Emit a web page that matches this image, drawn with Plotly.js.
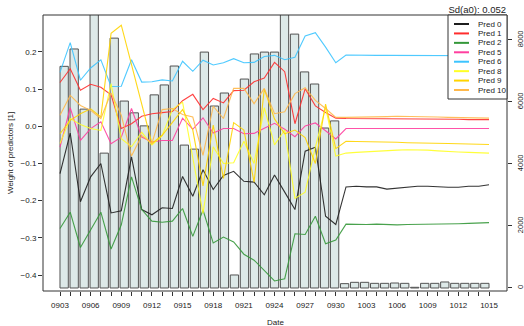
<!DOCTYPE html>
<html>
<head>
<meta charset="utf-8">
<script src="https://cdn.plot.ly/plotly-3.0.1.min.js"></script>
<style>
  html, body { margin: 0; padding: 0; background: #ffffff; }
  #chart { width: 524px; height: 326px; }
</style>
</head>
<body>
<div id="chart"></div>
<script>
// Daily dates (MMDD)
const dates = [
  '0903','0904','0905','0906','0907','0908','0909','0910','0911','0912',
  '0913','0914','0915','0916','0917','0918','0919','0920','0921','0922',
  '0923','0924','0925','0926','0927','0928','0929','0930','1001','1002',
  '1003','1004','1005','1006','1007','1008','1009','1010','1011','1012',
  '1013','1014','1015'
];

// Number of observations per day (right axis)
const counts = [
  7150, 7710, 5770, 9500, 4350, 8060, 6030, 5650, 5230, 6230,
  6550, 7160, 4610, 4480, 7610, 5870, 6290, 420, 6740, 7550,
  7610, 7610, 9500, 8190, 6970, 6580, 5160, 5390, 140, 183,
  183, 150, 150, 161, 150, 22, 150, 150, 194, 150,
  150, 150, 150
];

// Predictor weights (left axis)
const pred0 = [
  -0.127, -0.018, -0.203, -0.136, -0.100, -0.233, -0.227, -0.082, -0.224, -0.238,
  -0.219, -0.221, -0.135, -0.188, -0.117, -0.170, -0.132, -0.121, -0.148, -0.150,
  -0.184, -0.131, -0.177, -0.224, -0.067, -0.056, -0.242, -0.264, -0.163, -0.161,
  -0.163, -0.163, -0.169, -0.166, -0.162, -0.161, -0.161, -0.163, -0.164, -0.164,
  -0.161, -0.161, -0.157
];
const pred1 = [
  0.118, 0.155, 0.097, 0.113, 0.105, 0.085, -0.006, 0.007, 0.027, 0.034,
  0.037, 0.040, 0.069, 0.086, 0.045, 0.075, 0.063, 0.096, 0.097, 0.120,
  0.130, 0.172, 0.147, 0.007, 0.101, 0.055, 0.037, 0.022, 0.021, 0.021,
  0.020, 0.020, 0.020, 0.020, 0.020, 0.019, 0.019, 0.019, 0.019, 0.019,
  0.018, 0.018, 0.018
];
const pred2 = [
  -0.275, -0.231, -0.326, -0.277, -0.231, -0.330, -0.265, -0.136, -0.224, -0.255,
  -0.258, -0.255, -0.221, -0.296, -0.225, -0.314, -0.298, -0.311, -0.344, -0.360,
  -0.387, -0.416, -0.410, -0.289, -0.291, -0.242, -0.316, -0.306, -0.263, -0.264,
  -0.264, -0.263, -0.265, -0.265, -0.264, -0.264, -0.264, -0.263, -0.263, -0.262,
  -0.261, -0.260, -0.259
];
const pred5 = [
  -0.056, 0.050, -0.038, -0.006, 0.012, -0.047, -0.029, 0.048, -0.029, -0.042,
  -0.038, -0.038, 0.022, -0.008, 0.023, -0.018, -0.006, -0.006, -0.020, -0.019,
  -0.005, 0.008, -0.008, -0.028, 0.001, 0.009, -0.012, -0.034, -0.006, -0.006,
  -0.007, -0.007, -0.007, -0.008, -0.007, -0.007, -0.007, -0.007, -0.006, -0.006,
  -0.006, -0.006, -0.006
];
const pred6 = [
  0.145, 0.225, 0.124, 0.157, 0.179, 0.107, 0.108, 0.179, 0.119, 0.120,
  0.125, 0.122, 0.175, 0.148, 0.178, 0.165, 0.171, 0.182, 0.171, 0.172,
  0.188, 0.191, 0.179, 0.186, 0.243, 0.252, 0.213, 0.171, 0.192, 0.191,
  0.191, 0.191, 0.191, 0.191, 0.191, 0.191, 0.191, 0.191, 0.191, 0.191,
  0.191, 0.190, 0.190
];
const pred8 = [
  -0.046, 0.021, 0.005, -0.006, -0.011, 0.115, -0.033, -0.055, -0.016, -0.050,
  -0.025, 0.045, 0.065, -0.090, -0.234, -0.055, -0.100, -0.098, -0.040, -0.100,
  0.050, -0.050, -0.010, -0.194, -0.177, -0.056, 0.051, -0.080, -0.072, -0.070,
  -0.068, -0.067, -0.066, -0.064, -0.063, -0.063, -0.064, -0.066, -0.068, -0.069,
  -0.070, -0.071, -0.072
];
const pred9 = [
  -0.020, 0.016, 0.034, 0.047, 0.025, 0.250, 0.272, 0.164, 0.056, -0.046,
  -0.024, 0.010, 0.045, -0.010, -0.160, 0.003, -0.140, 0.010, -0.010, -0.150,
  0.100, 0.020, -0.020, -0.010, -0.030, -0.100, 0.060, -0.060, -0.040, -0.041,
  -0.041, -0.042, -0.042, -0.043, -0.044, -0.044, -0.045, -0.046, -0.046, -0.047,
  -0.048, -0.048, -0.049
];
const pred10 = [
  0.030, 0.083, 0.056, 0.043, 0.021, 0.090, 0.030, -0.080, -0.025, -0.046,
  0.045, 0.048, 0.032, 0.025, -0.078, 0.054, 0.021, 0.102, 0.102, 0.061,
  0.102, 0.034, 0.039, 0.088, 0.104, 0.070, 0.048, 0.024, 0.024, 0.024,
  0.025, 0.025, 0.026, 0.027, 0.027, 0.026, 0.025, 0.025, 0.024, 0.024,
  0.023, 0.023, 0.022
];

const seriesNames = ['Pred 0', 'Pred 1', 'Pred 2', 'Pred 5', 'Pred 6', 'Pred 8', 'Pred 9', 'Pred 10'];
const seriesData = [pred0, pred1, pred2, pred5, pred6, pred8, pred9, pred10];
const seriesColors = ['#1e1e1e', '#ff2d2d', '#35983a', '#ff3f9f', '#3cc4ff', '#ffff26', '#ffd400', '#ffb84a'];

const weightTicks = [-0.4, -0.3, -0.2, -0.1, 0.0, 0.1, 0.2];
const weightTickText = ['\u22120.4', '\u22120.3', '\u22120.2', '\u22120.1', '0.0', '0.1', '0.2'];
const countTicks = [0, 2000, 4000, 6000, 8000];
const dateLabelEvery = 3;

// Plot frame in pixels
const W = 524, H = 326;
const M = { l: 43, r: 17, t: 15, b: 35 };
const plotW = W - M.l - M.r;
const plotH = H - M.t - M.b;
const px2x = px => (px - M.l) / plotW;
const py2y = py => (H - M.b - py) / plotH;

const FONT = 'Liberation Sans, Arial, Helvetica, sans-serif';
const INK = '#222222';

const traces = [];

// Daily counts as bars behind the weight lines
traces.push({
  type: 'bar',
  x: dates,
  y: counts,
  xaxis: 'x',
  yaxis: 'y',
  width: 0.83,
  marker: { color: '#dde9e8', line: { color: '#525252', width: 1 } },
  hoverinfo: 'skip'
});

// Predictor weight lines
seriesData.forEach((vals, k) => {
  traces.push({
    type: 'scatter',
    mode: 'lines',
    name: seriesNames[k],
    x: dates,
    y: vals,
    xaxis: 'x2',
    yaxis: 'y2',
    line: { color: seriesColors[k], width: 1.1 },
    opacity: 0.9,
    hoverinfo: 'skip'
  });
});

// Hand-built legend box
const legend = { left: 448, right: 507, top: 15, bottom: 99, lineX0: 454, lineX1: 469, textX: 476, firstRow: 24, rowStep: 9.43 };
const shapes = [
  { type: 'rect', xref: 'paper', yref: 'paper', x0: 0, x1: 1, y0: 0, y1: 1,
    line: { color: '#333333', width: 1 }, fillcolor: 'rgba(0,0,0,0)', layer: 'above' },
  { type: 'rect', xref: 'paper', yref: 'paper',
    x0: px2x(legend.left), x1: px2x(legend.right), y0: py2y(legend.bottom), y1: py2y(legend.top),
    line: { color: '#333333', width: 1 }, fillcolor: '#ffffff', layer: 'above' }
];
const annotations = [];
seriesNames.forEach((name, k) => {
  const yy = py2y(legend.firstRow + k * legend.rowStep);
  shapes.push({ type: 'line', xref: 'paper', yref: 'paper',
    x0: px2x(legend.lineX0), x1: px2x(legend.lineX1), y0: yy, y1: yy,
    line: { color: seriesColors[k], width: 2 }, layer: 'above' });
  annotations.push({ xref: 'paper', yref: 'paper', x: px2x(legend.textX), y: yy,
    xanchor: 'left', yanchor: 'middle', showarrow: false, text: name,
    font: { family: FONT, size: 8, color: INK } });
});

// Axis titles
annotations.push({ xref: 'paper', yref: 'paper', x: px2x(10), y: py2y(153),
  xanchor: 'center', yanchor: 'middle', showarrow: false, textangle: -90,
  text: 'Weight of predictors [1]', font: { family: FONT, size: 8, color: INK } });
annotations.push({ xref: 'paper', yref: 'paper', x: 0.5, y: py2y(322),
  xanchor: 'center', yanchor: 'middle', showarrow: false,
  text: 'Date', font: { family: FONT, size: 8, color: INK } });

const dateTickText = dates.map((d, i) => (i % dateLabelEvery === 0 ? d : ''));

const layout = {
  width: W,
  height: H,
  margin: M,
  paper_bgcolor: '#ffffff',
  plot_bgcolor: '#ffffff',
  showlegend: false,
  font: { family: FONT, size: 8, color: INK },
  title: {
    text: 'Sd(a0): 0.052',
    x: 506 / W, xanchor: 'right', xref: 'container',
    y: 1 - 10 / H, yanchor: 'middle', yref: 'container',
    font: { family: FONT, size: 9.5, color: INK }
  },
  xaxis: {
    type: 'category',
    range: [-2.111, 44.211],
    visible: false,
    fixedrange: true
  },
  yaxis: {
    side: 'right',
    range: [-97, 8806],
    tickvals: countTicks,
    ticktext: countTicks.map(String),
    tickangle: -90,
    ticks: 'outside',
    ticklen: 4,
    tickwidth: 1,
    tickcolor: '#333333',
    ticklabelstandoff: 2,
    tickfont: { family: FONT, size: 7.5, color: INK },
    showgrid: false,
    zeroline: false,
    showline: false,
    fixedrange: true
  },
  xaxis2: {
    type: 'category',
    overlaying: 'x',
    anchor: 'y',
    side: 'bottom',
    range: [-1.664, 43.76],
    tickmode: 'array',
    tickvals: dates,
    ticktext: dateTickText,
    tickangle: 0,
    ticks: 'outside',
    ticklen: 4,
    tickwidth: 1,
    tickcolor: '#333333',
    ticklabelstandoff: 2,
    tickfont: { family: FONT, size: 8, color: INK },
    showgrid: false,
    zeroline: false,
    showline: false,
    fixedrange: true
  },
  yaxis2: {
    overlaying: 'y',
    anchor: 'x',
    side: 'left',
    range: [-0.443, 0.2995],
    tickvals: weightTicks,
    ticktext: weightTickText,
    ticks: 'outside',
    ticklen: 4,
    tickwidth: 1,
    tickcolor: '#333333',
    tickfont: { family: FONT, size: 8, color: INK },
    showgrid: false,
    zeroline: false,
    showline: false,
    fixedrange: true
  },
  shapes: shapes,
  annotations: annotations
};

Plotly.newPlot('chart', traces, layout, { displayModeBar: false, staticPlot: true });
</script>
</body>
</html>
